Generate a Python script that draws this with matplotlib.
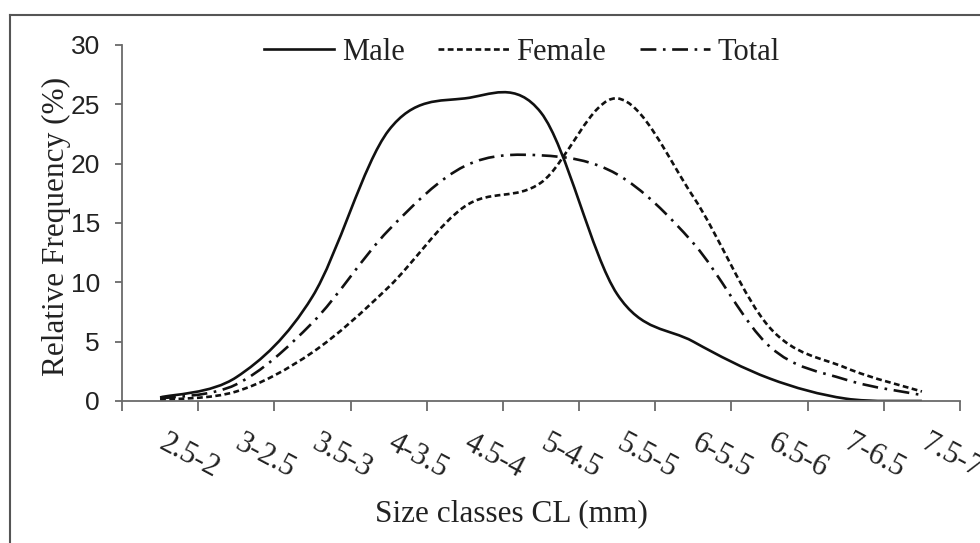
import matplotlib
matplotlib.use("Agg")
import matplotlib.pyplot as plt
import matplotlib.transforms as mtransforms
from matplotlib.path import Path
from matplotlib.patches import PathPatch
from matplotlib.lines import Line2D
import numpy as np

categories = ["2.5-2", "3-2.5", "3.5-3", "4-3.5", "4.5-4", "5-4.5",
              "5.5-5", "6-5.5", "6.5-6", "7-6.5", "7.5-7"]
male = [0.3, 2.0, 8.8, 22.8, 25.5, 24.3, 9.0, 5.0, 1.9, 0.2, 0.0]
female = [0.1, 0.8, 4.1, 9.6, 16.4, 18.4, 25.5, 17.2, 6.2, 2.8, 0.8]
total = [0.2, 1.4, 6.6, 14.4, 19.8, 20.7, 19.1, 13.3, 4.6, 1.8, 0.5]
yticks = [0, 5, 10, 15, 20, 25, 30]

SERIF = ["Liberation Serif", "DejaVu Serif"]
SANS = ["Liberation Sans", "DejaVu Sans"]

fig = plt.figure(figsize=(9.8, 5.43), dpi=100)
ax = fig.add_axes([122 / 980, 1 - 401 / 543, (960 - 122) / 980, (401 - 45) / 543])


def smooth_path(xs, ys):
    """Excel-like smoothed line: cubic Bezier through the points (Catmull-Rom tangents)."""
    n = len(xs)
    verts = [(xs[0], ys[0])]
    codes = [Path.MOVETO]
    for i in range(n - 1):
        a = i - 1 if i > 0 else i
        d = i + 2 if i + 2 < n else i + 1
        c1 = (xs[i] + (xs[i + 1] - xs[a]) / 6.0, ys[i] + (ys[i + 1] - ys[a]) / 6.0)
        c2 = (xs[i + 1] - (xs[d] - xs[i]) / 6.0, ys[i + 1] - (ys[d] - ys[i]) / 6.0)
        verts += [c1, c2, (xs[i + 1], ys[i + 1])]
        codes += [Path.CURVE4, Path.CURVE4, Path.CURVE4]
    return Path(verts, codes)


x = np.arange(len(categories))
styles = [
    ("Male", male, "-"),
    ("Female", female, (0, (2.2, 1.3))),
    ("Total", total, (0, (6, 2.5, 1, 2.5))),
]
handles = []
for name, vals, ls in styles:
    p = PathPatch(smooth_path(list(x), vals), fill=False, edgecolor="#111111",
                  linewidth=1.9, linestyle=ls, capstyle="butt")
    ax.add_patch(p)
    handles.append(Line2D([], [], color="#111111", linewidth=1.9, linestyle=ls, label=name))

ax.set_xlim(-0.5, len(categories) - 0.5)
ax.set_ylim(0, 30)

for s in ["top", "right"]:
    ax.spines[s].set_visible(False)
for s in ["left", "bottom"]:
    ax.spines[s].set_color("#6a6a6a")
    ax.spines[s].set_linewidth(1.3)

ax.set_yticks(yticks)
ax.set_yticklabels([str(v) for v in yticks], fontfamily=SANS, fontsize=19, color="#222222")
ax.tick_params(axis="y", direction="out", length=5, width=1.3, color="#6a6a6a", pad=11)

ax.set_xticks(x)
ax.set_xticklabels(categories, fontfamily=SERIF, fontsize=22, color="#222222",
                   rotation=-28, ha="left", va="top", rotation_mode="anchor")
ax.tick_params(axis="x", which="major", length=0, pad=20)
shift = mtransforms.ScaledTranslation(8 / 100, 0, fig.dpi_scale_trans)
for lab in ax.get_xticklabels():
    lab.set_transform(lab.get_transform() + shift)
ax.set_xticks(np.arange(-0.5, len(categories), 1.0), minor=True)
ax.tick_params(axis="x", which="minor", direction="out", length=7, width=1.3, color="#6a6a6a")

ax.set_ylabel("Relative Frequency (%)", fontfamily=SERIF, fontsize=22.5, color="#222222")
ax.yaxis.set_label_coords(-0.078, 0.49)
ax.yaxis.label.set_verticalalignment("center")
ax.set_xlabel("Size classes CL (mm)", fontfamily=SERIF, fontsize=22.5, color="#222222")
ax.xaxis.set_label_coords(0.465, -0.317)
ax.xaxis.label.set_verticalalignment("center")

leg = fig.legend(handles=handles, loc="center", bbox_to_anchor=(522 / 980, 1 - 52 / 543),
                 ncol=3, frameon=False, prop={"family": SERIF, "size": 22},
                 handlelength=2.3, handletextpad=0.25, columnspacing=1.1)
for t in leg.get_texts():
    t.set_color("#222222")

# outer frame (left and top edges visible in the picture)
fig.add_artist(Line2D([10 / 980, 10 / 980], [0, 1 - 15 / 543], transform=fig.transFigure,
                      color="#555555", linewidth=1.5))
fig.add_artist(Line2D([10 / 980, 1], [1 - 15 / 543, 1 - 15 / 543], transform=fig.transFigure,
                      color="#555555", linewidth=1.5))

fig.savefig("out.png", dpi=100, facecolor="white")
